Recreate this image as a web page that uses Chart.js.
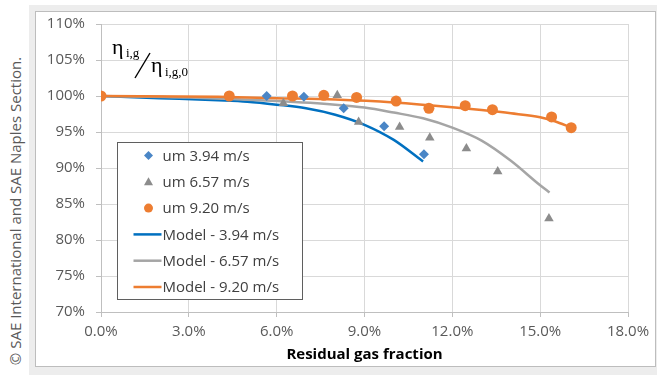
<!DOCTYPE html>
<html>
<head>
<meta charset="utf-8">
<script src="https://cdn.jsdelivr.net/npm/chart.js@4.4.1/dist/chart.umd.min.js"></script>
<style>
  html,body{margin:0;padding:0;background:#fff;}
  #wrap{position:relative;width:657px;height:375px;overflow:hidden;background:#fff;}
  #shadow{position:absolute;left:29px;top:5px;width:628px;height:370px;background:#ededed;}
  #frame{position:absolute;left:35px;top:11px;width:619px;height:354px;border:1px solid #bdbdbd;background:#fff;}
  #copy{position:absolute;left:15px;top:211px;transform:translate(-50%,-50%) rotate(-90deg);white-space:nowrap;
        font-family:"Open Sans",sans-serif;font-size:15px;color:#595959;}
  canvas{position:absolute;left:0;top:0;}
</style>
</head>
<body>
<div id="wrap">
  <div id="shadow"></div>
  <div id="frame"></div>
  <div id="copy">© SAE International and SAE Naples Section.</div>
  <canvas id="c" width="657" height="375"></canvas>
</div>
<script>
// ---- data ----
const xTicks = [0, 3, 6, 9, 12, 15, 18];          // residual gas fraction, %
const yTicks = [70, 75, 80, 85, 90, 95, 100, 105, 110]; // efficiency ratio, %

const seriesLabels = ["um 3.94 m/s", "um 6.57 m/s", "um 9.20 m/s",
                      "Model - 3.94 m/s", "Model - 6.57 m/s", "Model - 9.20 m/s"];

// measured points
const meas394_x = [5.66, 6.93, 8.29, 9.67, 11.03];
const meas394_y = [100.0, 99.9, 98.3, 95.8, 91.9];

const meas657_x = [6.23, 8.07, 8.80, 10.20, 11.23, 12.48, 13.55, 15.30];
const meas657_y = [99.0, 100.1, 96.4, 95.7, 94.2, 92.7, 89.5, 83.0];

const meas920_x = [0.0, 4.38, 6.54, 7.61, 8.73, 10.08, 11.20, 12.44, 13.37, 15.39, 16.06];
const meas920_y = [100.0, 100.0, 100.0, 100.1, 99.8, 99.3, 98.3, 98.65, 98.1, 97.1, 95.6];

// model curves
const model394_x = [0, 2, 4, 5, 6, 7, 8, 9, 10, 11.0];
const model394_y = [100, 99.7, 99.4, 99.2, 98.8, 98.3, 97.4, 96.0, 93.9, 90.9];

const model657_x = [0, 3, 6, 8, 9, 10, 11, 12, 13, 14, 15, 15.32];
const model657_y = [100, 99.8, 99.3, 98.8, 98.4, 97.7, 96.9, 95.6, 93.8, 91.0, 87.6, 86.6];

const model920_x = [0, 4, 6, 8, 10, 12, 13, 14, 15, 15.5, 16.06];
const model920_y = [100, 99.9, 99.7, 99.5, 99.1, 98.45, 98.05, 97.6, 97.05, 96.5, 95.6];

// ---- build ----
const pts = (xs, ys) => xs.map((x, i) => ({x: x, y: ys[i]}));
const FONT = '"Open Sans", sans-serif';

const datasets = [
  {label: seriesLabels[0], data: pts(meas394_x, meas394_y), showLine: false,
   pointStyle: 'rectRot', pointRadius: 5, backgroundColor: '#4a86c6', borderColor: '#4a86c6', borderWidth: 0, order: 2},
  {label: seriesLabels[1], data: pts(meas657_x, meas657_y), showLine: false,
   pointStyle: 'triangle', pointRadius: 5.5, backgroundColor: '#8c8c8c', borderColor: '#8c8c8c', borderWidth: 0, order: 1},
  {label: seriesLabels[2], data: pts(meas920_x, meas920_y), showLine: false,
   pointStyle: 'circle', pointRadius: 5.5, backgroundColor: '#ed7d31', borderColor: '#ed7d31', borderWidth: 0, order: 0},
  {label: seriesLabels[3], data: pts(model394_x, model394_y), showLine: true, pointRadius: 0,
   borderColor: '#0070c0', backgroundColor: '#0070c0', borderWidth: 2.5, cubicInterpolationMode: 'monotone', order: 5},
  {label: seriesLabels[4], data: pts(model657_x, model657_y), showLine: true, pointRadius: 0,
   borderColor: '#a5a5a5', backgroundColor: '#a5a5a5', borderWidth: 2.5, cubicInterpolationMode: 'monotone', order: 4},
  {label: seriesLabels[5], data: pts(model920_x, model920_y), showLine: true, pointRadius: 0,
   borderColor: '#ed7d31', backgroundColor: '#ed7d31', borderWidth: 2.5, cubicInterpolationMode: 'monotone', order: 3}
];

function drawMarker(ctx, style, x, y, r, color) {
  ctx.save();
  ctx.fillStyle = color;
  ctx.beginPath();
  if (style === 'rectRot') {
    ctx.moveTo(x, y - r); ctx.lineTo(x + r, y); ctx.lineTo(x, y + r); ctx.lineTo(x - r, y);
  } else if (style === 'triangle') {
    ctx.moveTo(x, y - r); ctx.lineTo(x + r, y + r * 0.75); ctx.lineTo(x - r, y + r * 0.75);
  } else {
    ctx.arc(x, y, r, 0, Math.PI * 2);
  }
  ctx.closePath();
  ctx.fill();
  ctx.restore();
}

const legendPlugin = {
  id: 'boxLegend',
  afterDraw(chart) {
    const ctx = chart.ctx, ca = chart.chartArea;
    const bx = Math.round(ca.left + 16) + 0.5, by = Math.round(ca.top + 118) + 0.5;
    const bw = 185, bh = 157;
    ctx.save();
    ctx.fillStyle = '#ffffff';
    ctx.fillRect(bx, by, bw, bh);
    ctx.strokeStyle = '#5f5f5f';
    ctx.lineWidth = 1;
    ctx.strokeRect(bx, by, bw, bh);
    ctx.font = '15px ' + FONT;
    ctx.textBaseline = 'middle';
    ctx.textAlign = 'left';
    const ds = chart.data.datasets;
    const rowH = 26.3;
    for (let i = 0; i < ds.length; i++) {
      const cy = by + 13 + i * rowH;
      const d = ds[i];
      if (d.showLine) {
        ctx.strokeStyle = d.borderColor;
        ctx.lineWidth = 2.5;
        ctx.beginPath();
        ctx.moveTo(bx + 16, cy); ctx.lineTo(bx + 44, cy);
        ctx.stroke();
      } else {
        drawMarker(ctx, d.pointStyle, bx + 31, cy, 4.5, d.backgroundColor);
      }
      ctx.fillStyle = '#404040';
      ctx.fillText(d.label, bx + 45, cy + 1);
    }
    ctx.restore();
  }
};

const annotationPlugin = {
  id: 'etaLabel',
  afterDraw(chart) {
    const ctx = chart.ctx, ca = chart.chartArea;
    const x0 = ca.left + 11, y0 = ca.top + 30;
    ctx.save();
    ctx.fillStyle = '#000';
    ctx.textBaseline = 'alphabetic';
    ctx.textAlign = 'left';
    ctx.font = '22px "Liberation Serif", serif';
    ctx.fillText('η', x0, y0);
    ctx.font = '13px "Liberation Serif", serif';
    ctx.fillText('i,g', x0 + 14, y0 + 3);
    ctx.strokeStyle = '#000';
    ctx.lineWidth = 1.4;
    ctx.beginPath();
    ctx.moveTo(x0 + 23, y0 + 24); ctx.lineTo(x0 + 38, y0 - 1);
    ctx.stroke();
    ctx.font = '22px "Liberation Serif", serif';
    ctx.fillText('η', x0 + 39, y0 + 18);
    ctx.font = '13px "Liberation Serif", serif';
    ctx.fillText('i,g,0', x0 + 53, y0 + 22);
    ctx.restore();
  }
};

new Chart(document.getElementById('c'), {
  type: 'scatter',
  data: {datasets: datasets},
  options: {
    responsive: false,
    animation: false,
    devicePixelRatio: 1,
    layout: {padding: {left: 40, right: 29, top: 24, bottom: 10}},
    plugins: {legend: {display: false}, tooltip: {enabled: false}},
    elements: {line: {fill: false}},
    scales: {
      x: {
        type: 'linear',
        min: xTicks[0], max: xTicks[xTicks.length - 1],
        afterBuildTicks: (s) => { s.ticks = xTicks.map(v => ({value: v})); },
        afterFit: (s) => { s.height = 53; },
        ticks: {callback: (v) => v.toFixed(1) + '%', font: {family: FONT, size: 15}, color: '#595959', padding: 6, maxRotation: 0},
        grid: {color: '#d9d9d9', tickLength: 5, tickColor: '#bfbfbf'},
        border: {color: '#bfbfbf'},
        title: {display: true, text: 'Residual gas fraction', font: {family: FONT, size: 15, weight: 'bold'}, color: '#000', padding: {top: 0, bottom: 1}}
      },
      y: {
        type: 'linear',
        min: yTicks[0], max: yTicks[yTicks.length - 1],
        afterBuildTicks: (s) => { s.ticks = yTicks.map(v => ({value: v})); },
        afterFit: (s) => { s.width = 61; },
        ticks: {callback: (v) => v + '%', font: {family: FONT, size: 15}, color: '#595959', padding: 11},
        grid: {color: '#d9d9d9', tickLength: 5, tickColor: '#bfbfbf'},
        border: {color: '#bfbfbf'}
      }
    }
  },
  plugins: [legendPlugin, annotationPlugin]
});
</script>
</body>
</html>
